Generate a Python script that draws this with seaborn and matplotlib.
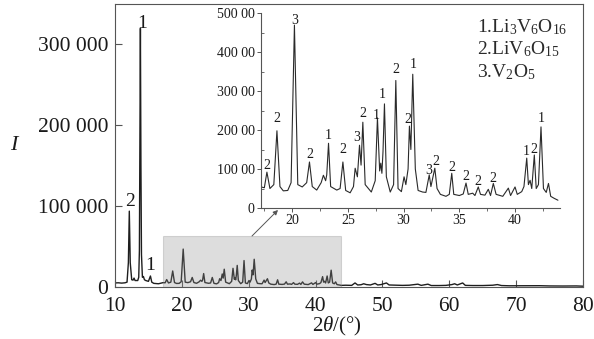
import numpy as np
import pandas as pd
import matplotlib
matplotlib.use("Agg")
import matplotlib.pyplot as plt
from matplotlib.patches import Rectangle
from matplotlib.ticker import MultipleLocator
import seaborn as sns

# XRD pattern: 2theta (deg) and intensity
two_theta = [
    10.0, 10.5, 11.0, 11.5, 11.8, 12.0, 12.14, 12.28, 12.5, 12.7, 12.85, 13.0,
    13.4, 13.55, 13.65, 13.72, 13.8, 13.88, 13.96, 14.1, 14.25, 14.4, 14.6, 15.0,
    15.3, 15.5, 15.8, 16.5, 17.0,
    17.2, 17.5, 17.73, 18.0, 18.35, 18.63, 18.9, 19.2, 19.6, 19.9, 20.2, 20.5,
    20.9, 21.3, 21.55, 21.8, 22.2, 22.6, 22.8, 23.0, 23.1, 23.26, 23.45, 24.0,
    24.3, 24.55, 24.8, 25.2, 25.5, 25.65, 25.85, 26.04, 26.18, 26.34, 26.55,
    27.1, 27.45, 27.65, 27.85, 27.95, 28.05, 28.15, 28.28, 28.45, 28.8, 29.1,
    29.3, 29.5, 29.8, 30.04, 30.2, 30.4, 30.52, 30.65, 30.82, 31.05, 31.3, 31.7,
    32.0, 32.3, 32.45, 32.8, 33.0, 33.3, 33.8, 34.1, 34.32, 34.5, 35.0, 35.35,
    35.6, 35.8, 36.2, 36.4, 36.7, 36.9, 37.3, 37.6, 37.8, 38.05, 38.3, 38.9,
    39.4, 39.6, 40.0, 40.2, 40.6, 40.8, 41.05, 41.2, 41.35, 41.5, 41.73, 41.9,
    42.1, 42.33, 42.55, 42.8, 43.0, 43.2, 43.5, 43.85, 44.5,
    45.4, 45.9, 46.3, 46.8, 47.2, 47.6, 48.2, 48.9, 49.3, 49.8, 50.6, 51.0,
    52.0, 53.0, 54.0, 55.3, 55.8, 56.8, 57.3, 58.5, 59.5, 60.4, 60.8, 61.2,
    62.0, 62.4, 63.5, 65.0, 66.5, 67.2, 67.8, 69.0, 70.5, 72.0, 73.5, 75.0,
    77.0, 79.0, 80.0,
]
intensity = [
    5000, 5200, 4800, 5200, 6000, 30000, 93800, 30000, 9000, 8500, 11000, 8000,
    8000, 12000, 45000, 180000, 320000, 150000, 40000, 12000, 13000, 9000, 8000, 7000,
    13600, 6000, 4500, 4000, 5000,
    5400, 5200, 9200, 5000, 6000, 19800, 5500, 4400, 4500, 6500, 46900, 6000,
    5400, 6500, 11800, 5500, 4600, 6500, 8400, 7000, 8500, 16600, 5500, 4600,
    5000, 11800, 4500, 3900, 5500, 10200, 8000, 16100, 11000, 22000, 6000,
    4100, 7000, 23100, 9500, 11500, 8900, 14500, 26700, 8000, 4100, 6000,
    32700, 5000, 4200, 8000, 6000, 10000, 21000, 15000, 34300, 10000, 4500, 4100,
    4000, 8500, 5500, 10200, 5000, 3500, 3000, 3500, 8900, 3500, 3200, 3600,
    6400, 3500, 3800, 3200, 5400, 3500, 3300, 4800, 3200, 6300, 3500, 3000,
    5100, 3200, 5400, 3500, 4200, 5500, 12800, 6000, 7100, 5000, 13600, 5000,
    6000, 20800, 5000, 4000, 6300, 3000, 2500, 2000, 2200,
    2000, 5000, 2500, 2800, 4000, 3000, 2500, 4500, 2500, 3000, 5000, 2500,
    2200, 2000, 2200, 3500, 2000, 3500, 1800, 1800, 2000, 3000, 4000, 2500,
    5000, 2000, 1800, 1800, 2200, 3000, 1800, 1500, 1500, 1400, 1600, 1300,
    1200, 1300, 1000,
]
df = pd.DataFrame({"two_theta": two_theta, "I": intensity})

# peak labels (phase number) in the main plot
main_lab_x = [12.24, 14.04, 15.2]
main_lab_y = [106000, 326000, 26000]
main_lab = ["2", "1", "1"]

# peak labels in the inset
ins_lab_x = [17.73, 18.63, 20.2, 21.55, 23.26, 24.55, 25.8, 26.35, 27.56, 28.12,
             29.3, 30.37, 30.85, 32.25, 32.9, 34.32, 35.6, 36.7, 38.05, 41.0,
             41.72, 42.33]
ins_lab_y = [11000, 23000, 48200, 13800, 18700, 14900, 18200, 24300, 23800, 29000,
             35400, 22800, 36900, 9700, 12000, 10500, 8000, 6700, 7500, 14400,
             15100, 23000]
ins_lab = ["2", "2", "3", "2", "1", "2", "3", "2", "1", "1",
           "2", "2", "1", "3", "2", "2", "2", "2", "2", "1",
           "2", "1"]

phases = ["1.Li$_3$V$_6$O$_{16}$", "2.LiV$_6$O$_{15}$", "3.V$_2$O$_5$"]

main_yticks = [0, 100000, 200000, 300000]
main_yticklabels = ["0", "100 000", "200 000", "300 000"]
ins_yticks = [0, 10000, 20000, 30000, 40000, 50000]
ins_yticklabels = ["0", "100 00", "200 00", "300 00", "400 00", "500 00"]

sns.set_style("ticks")
plt.rcParams["font.family"] = ["Liberation Serif", "DejaVu Serif"]
plt.rcParams["mathtext.fontset"] = "custom"
plt.rcParams["mathtext.rm"] = "Liberation Serif"
plt.rcParams["mathtext.it"] = "Liberation Serif:italic"
plt.rcParams["mathtext.default"] = "regular"

txt = "#1a1a1a"
spine_c = "#555555"

fig = plt.figure(figsize=(5.94, 3.39), dpi=100)
ax = fig.add_axes([0.1936, 0.1534, 0.7879, 0.8348])
sns.lineplot(data=df, x="two_theta", y="I", ax=ax, color="#1e1e1e", lw=1.0,
             estimator=None, sort=False)
ax.set_xlim(10, 80)
ax.set_ylim(0, 350000)
ax.set_xticks([10, 20, 30, 40, 50, 60, 70, 80])
ax.set_yticks(main_yticks)
ax.set_yticklabels(main_yticklabels)
ax.tick_params(direction="in", length=5, width=0.8, labelsize=15.5, colors=spine_c,
               labelcolor=txt)
ax.tick_params(axis="x", pad=7)
ax.tick_params(axis="y", pad=5)
for s in ax.spines.values():
    s.set_color(spine_c)
    s.set_linewidth(0.8)
ax.set_xlabel("")
ax.set_ylabel("")
fig.text(0.024, 0.57, "I", fontsize=16, fontstyle="italic", color=txt,
         ha="center", va="center")
fig.text(337 / 594, 1 - 326 / 339, "2$\\mathit{\\theta}$/(°)", fontsize=15,
         color=txt, ha="center", va="center")

for x, y, t in zip(main_lab_x, main_lab_y, main_lab):
    ax.text(x, y, t, fontsize=14, color=txt, ha="center", va="center")

ax.add_patch(Rectangle((17.2, 0), 26.6, 63000, facecolor="#8f8f8f", alpha=0.3,
                       edgecolor="#888888", lw=0.8, zorder=3))

ax.annotate("", xy=(278 / 594, 1 - 210 / 339), xytext=(252 / 594, 1 - 236 / 339),
            xycoords="figure fraction", textcoords="figure fraction",
            arrowprops=dict(arrowstyle="-|>", color="#555555", lw=0.7,
                            mutation_scale=7, shrinkA=0, shrinkB=0))

for i, p in enumerate(phases):
    fig.text(477 / 594, 1 - (27 + 22.5 * i) / 339, p, fontsize=14, color="#2a2a2a",
             ha="left", va="center")

# inset zoom
axi = fig.add_axes([0.4394, 0.3864, 0.5027, 0.5752])
axi.patch.set_alpha(0)
ins = df[(df.two_theta >= 17.2) & (df.two_theta <= 44.0)]
sns.lineplot(data=ins, x="two_theta", y="I", ax=axi, color="#2a2a2a", lw=0.8,
             estimator=None, sort=False)
axi.set_xlim(17.2, 44.0)
axi.set_ylim(0, 50000)
axi.set_xticks([20, 25, 30, 35, 40])
axi.xaxis.set_minor_locator(MultipleLocator(2.5))
axi.set_yticks(ins_yticks)
axi.set_yticklabels(ins_yticklabels)
axi.yaxis.set_minor_locator(MultipleLocator(5000))
axi.tick_params(which="major", direction="out", length=3, width=0.7, labelsize=10,
                colors=spine_c, labelcolor=txt, pad=1.5)
axi.tick_params(axis="y", which="minor", direction="in", length=2.5, width=0.6,
                colors=spine_c)
axi.tick_params(axis="x", which="minor", direction="out", length=2, width=0.6,
                colors=spine_c)
axi.spines["top"].set_visible(False)
axi.spines["right"].set_visible(False)
for s in ["left", "bottom"]:
    axi.spines[s].set_color(spine_c)
    axi.spines[s].set_linewidth(0.8)
axi.set_xlabel("")
axi.set_ylabel("")
for x, y, t in zip(ins_lab_x, ins_lab_y, ins_lab):
    axi.text(x, y, t, fontsize=10, color=txt, ha="center", va="center")

fig.savefig("out.png", dpi=100)
